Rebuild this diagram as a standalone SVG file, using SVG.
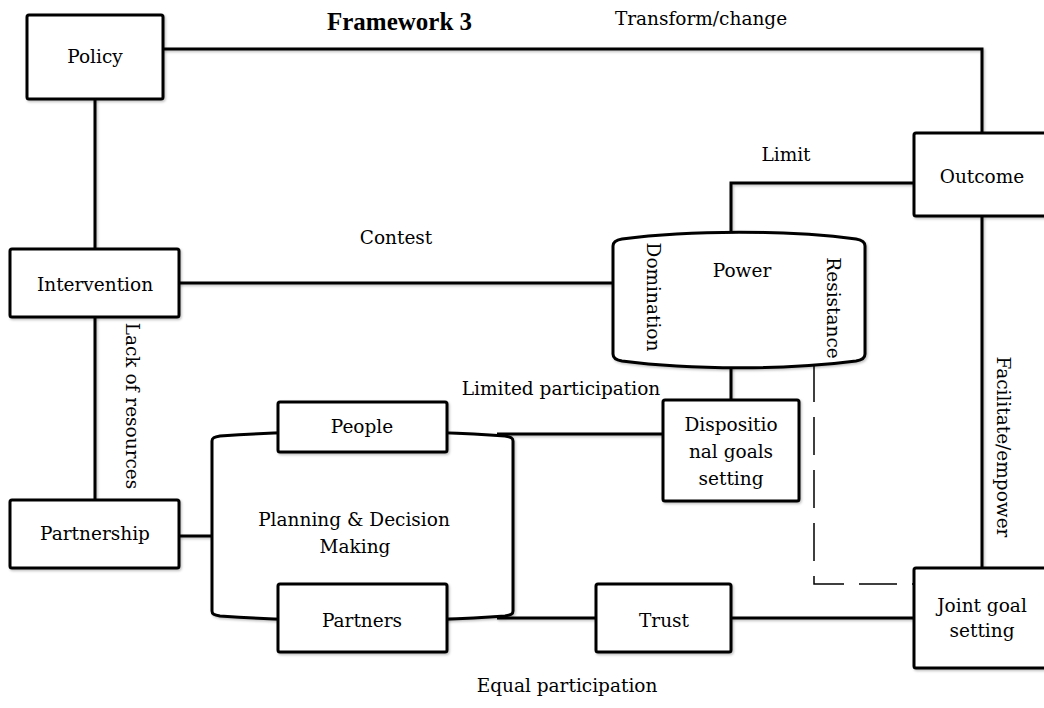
<svg xmlns="http://www.w3.org/2000/svg" width="1044" height="708" viewBox="0 0 1044 708">
  <defs>
    <!-- light offset shadow; user-space region so straight lines keep it too -->
    <filter id="soft" filterUnits="userSpaceOnUse" x="0" y="0" width="1044" height="708">
      <feDropShadow dx="1.2" dy="1.5" stdDeviation="1" flood-color="#000" flood-opacity="0.25"/>
    </filter>
  </defs>
  <style>
    .box{fill:#fff;stroke:#000;stroke-width:3;filter:url(#soft)}
    .ln{fill:none;stroke:#000;stroke-width:3;filter:url(#soft)}
    .dash{fill:none;stroke:#000;stroke-width:1.5;stroke-dasharray:38 15}
    .t{font-family:"DejaVu Serif","Liberation Serif",serif;font-size:18.5px;text-anchor:middle;fill:#000}
    .title{font-family:"Liberation Serif",serif;font-weight:bold;font-size:25px;fill:#000}
  </style>
  <rect width="1044" height="708" fill="#fff"/>

  <!-- connectors -->
  <g id="connectors">
    <path class="ln" d="M163,49 H982 V133"/>
    <path class="ln" d="M95,99 V249"/>
    <path class="ln" d="M179,283 H613"/>
    <path class="ln" d="M95,317 V500"/>
    <path class="ln" d="M914,183 H731 V234"/>
    <path class="ln" d="M982,216 V568"/>
    <path class="ln" d="M731,366 V400"/>
    <path class="ln" d="M663,434 H497"/>
    <path class="ln" d="M179,536 H212"/>
    <path class="ln" d="M497,618 H596"/>
    <path class="ln" d="M731,618 H914"/>
    <path class="dash" d="M814,364 V584 H914"/>
  </g>

  <!-- connector labels -->
  <g id="labels">
    <text class="title" x="327" y="30">Framework 3</text>
    <text class="t" x="701" y="25">Transform/change</text>
    <text class="t" x="786" y="161">Limit</text>
    <text class="t" x="396" y="244">Contest</text>
    <text class="t" x="561" y="395">Limited participation</text>
    <text class="t" x="567" y="692">Equal participation</text>
    <text class="t" transform="translate(132,406) rotate(90)" y="6">Lack of resources</text>
    <text class="t" transform="translate(1003,447) rotate(90)" y="6">Facilitate/empower</text>
  </g>

  <g id="policy">
    <rect class="box" x="27" y="15" width="136" height="84" rx="2"/>
    <text class="t" x="95" y="63">Policy</text>
  </g>

  <g id="intervention">
    <rect class="box" x="10" y="249" width="169" height="68" rx="2"/>
    <text class="t" x="95" y="291">Intervention</text>
  </g>

  <g id="partnership">
    <rect class="box" x="10" y="500" width="169" height="68" rx="2"/>
    <text class="t" x="95" y="540">Partnership</text>
  </g>

  <!-- right-hand boxes run past the page edge -->
  <g id="outcome">
    <rect class="box" x="914" y="133" width="140" height="83" rx="2"/>
    <text class="t" x="982" y="183">Outcome</text>
  </g>

  <g id="power">
    <path class="box" d="M613,246 C613,242 616,240 622,239 C690,230 788,230 856,239 C862,240 865,242 865,246 V354 C865,358 862,360 856,361 C788,370 690,370 622,361 C616,360 613,358 613,354 Z"/>
    <text class="t" x="742" y="277">Power</text>
    <text class="t" transform="translate(653,297) rotate(90)" y="6">Domination</text>
    <text class="t" transform="translate(833,308) rotate(90)" y="6">Resistance</text>
  </g>

  <g id="dispositional">
    <rect class="box" x="663" y="400" width="136" height="101" rx="2"/>
    <text class="t" x="731" y="431">Dispositio</text>
    <text class="t" x="731" y="458">nal goals</text>
    <text class="t" x="731" y="485">setting</text>
  </g>

  <g id="planning">
    <path class="box" d="M212,441 C212,438 214,437 220,436 C300,430 425,430 505,436 C511,437 513,438 513,441 V611 C513,614 511,615 505,616 C425,622 300,622 220,616 C214,615 212,614 212,611 Z"/>
    <text class="t" x="354" y="526">Planning &amp; Decision</text>
    <text class="t" x="355" y="553">Making</text>
  </g>

  <g id="people">
    <rect class="box" x="278" y="402" width="169" height="50" rx="2"/>
    <text class="t" x="362" y="433">People</text>
  </g>

  <g id="partners">
    <rect class="box" x="278" y="584" width="169" height="68" rx="2"/>
    <text class="t" x="362" y="627">Partners</text>
  </g>

  <g id="trust">
    <rect class="box" x="596" y="584" width="135" height="68" rx="2"/>
    <text class="t" x="664" y="627">Trust</text>
  </g>

  <g id="joint-goal">
    <rect class="box" x="914" y="568" width="140" height="100" rx="2"/>
    <text class="t" x="982" y="612">Joint goal</text>
    <text class="t" x="982" y="637">setting</text>
  </g>
</svg>
